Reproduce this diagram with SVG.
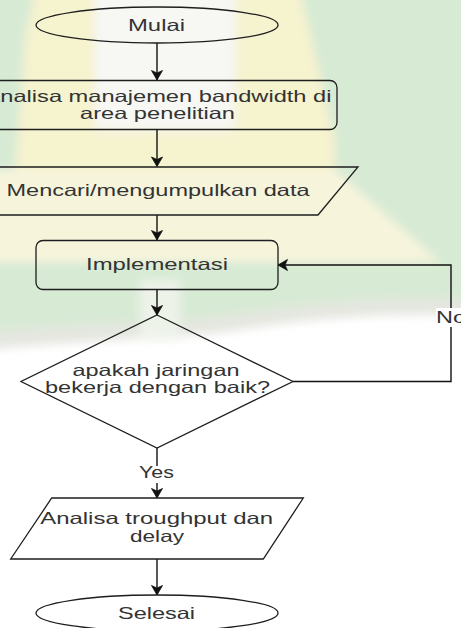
<svg xmlns="http://www.w3.org/2000/svg" width="461" height="628" viewBox="0 0 461 628">
<defs>
<style>
.shape{fill:none;stroke:#1e1e1e;stroke-width:1.3}
.edge{fill:none;stroke:#111;stroke-width:1.4}
.t{font-family:"Liberation Sans",Arial,sans-serif;font-size:16.5px;fill:#333;text-anchor:middle}
.lbl{fill:#fff;stroke:none}
</style>
<marker id="arr" markerUnits="userSpaceOnUse" markerWidth="14" markerHeight="14" viewBox="-1 -7 12 14" refX="9.5" refY="0" orient="auto">
<path d="M0,-5.5 L9.5,0 L0,5.5 L2.5,0 Z" fill="#111" stroke="#111" stroke-width="0.8"/>
</marker>
<filter id="soft" x="-10%" y="-10%" width="120%" height="120%"><feGaussianBlur stdDeviation="5"/></filter>
</defs>
<rect width="461" height="628" fill="#ffffff"/>
<g id="watermark" filter="url(#soft)">
<path fill="#d7ead4" d="M-20,-20 H481 V300 C400,295 330,300 250,312 C180,324 100,320 -20,332 Z"/>
<path fill="#e4e6df" d="M-20,332 C100,320 180,324 250,312 C330,300 400,295 481,300 V316 C400,312 330,316 250,328 C180,340 100,338 -20,350 Z"/>
<path fill="#f6f3cf" d="M35,-10 H300 L335,140 V175 H15 L25,40 Z"/>
<rect fill="#f7f7f4" x="95" y="-10" width="140" height="140"/>
<path fill="#f7f4dc" d="M-20,170 H335 L440,262 H-20 Z"/>
<rect fill="#eef3ea" x="140" y="280" width="40" height="60"/>
</g>
<g id="connectors">
<path class="edge" d="M157,43 V80" marker-end="url(#arr)"/>
<path class="edge" d="M157,130 V166.5" marker-end="url(#arr)"/>
<path class="edge" d="M157,215 V240" marker-end="url(#arr)"/>
<path class="edge" d="M157,289.5 V315" marker-end="url(#arr)"/>
<path class="edge" d="M157,448 V498" marker-end="url(#arr)"/>
<path class="edge" d="M293,381.5 H451 V265 H278" marker-end="url(#arr)"/>
<path class="edge" d="M157,559 V595" marker-end="url(#arr)"/>
<rect class="lbl" x="436" y="308" width="30" height="19"/>
<text class="t" x="451" y="322.5" textLength="30" lengthAdjust="spacingAndGlyphs">No</text>
<rect class="lbl" x="139" y="466" width="36" height="17"/>
<text class="t" x="156.5" y="478" textLength="35" lengthAdjust="spacingAndGlyphs">Yes</text>
</g>
<g id="mulai">
<ellipse class="shape" cx="157" cy="25" rx="121" ry="18"/>
<text class="t" x="156.5" y="31" textLength="57" lengthAdjust="spacingAndGlyphs">Mulai</text>
</g>
<g id="analisa-bandwidth">
<rect class="shape" x="-23" y="80.5" width="360" height="49" rx="7"/>
<text class="t" x="158" y="102" textLength="347" lengthAdjust="spacingAndGlyphs">Analisa manajemen bandwidth di</text>
<text class="t" x="157.5" y="119" textLength="155" lengthAdjust="spacingAndGlyphs">area penelitian</text>
</g>
<g id="mencari-data">
<polygon class="shape" points="-4,167 358,167 318,215 -44,215"/>
<text class="t" x="158" y="196" textLength="303" lengthAdjust="spacingAndGlyphs">Mencari/mengumpulkan data</text>
</g>
<g id="implementasi">
<rect class="shape" x="36" y="240.5" width="242" height="49" rx="7"/>
<text class="t" x="157" y="269.5" textLength="142" lengthAdjust="spacingAndGlyphs">Implementasi</text>
</g>
<g id="keputusan">
<polygon class="shape" points="157,315 293,381.5 157,448 21,381.5"/>
<text class="t" x="156" y="376" textLength="167" lengthAdjust="spacingAndGlyphs">apakah jaringan</text>
<text class="t" x="157.5" y="393" textLength="225" lengthAdjust="spacingAndGlyphs">bekerja dengan baik?</text>
</g>
<g id="analisa-throughput">
<polygon class="shape" points="51.7,498 303.3,498 263.3,559 10.7,559"/>
<text class="t" x="156.7" y="524" textLength="233" lengthAdjust="spacingAndGlyphs">Analisa troughput dan</text>
<text class="t" x="157" y="541.5" textLength="54" lengthAdjust="spacingAndGlyphs">delay</text>
</g>
<g id="selesai">
<ellipse class="shape" cx="157" cy="613" rx="121" ry="18"/>
<text class="t" x="156.5" y="619" textLength="77" lengthAdjust="spacingAndGlyphs">Selesai</text>
</g>
</svg>
